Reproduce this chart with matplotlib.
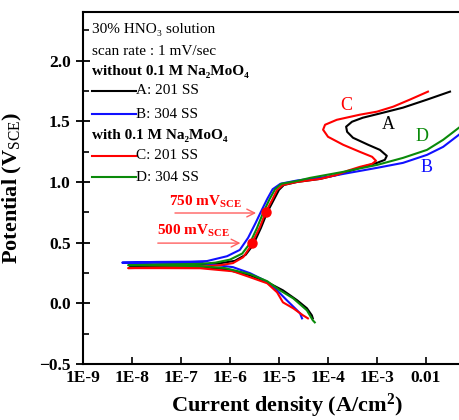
import matplotlib
matplotlib.use('Agg')
import matplotlib.pyplot as plt
from matplotlib.lines import Line2D
import numpy as np

plt.rcParams['font.family'] = ['Liberation Serif', 'DejaVu Serif']
plt.rcParams['mathtext.fontset'] = 'custom'
plt.rcParams['mathtext.rm'] = 'Liberation Serif'
plt.rcParams['mathtext.bf'] = 'Liberation Serif:bold'
plt.rcParams['mathtext.it'] = 'Liberation Serif:italic'

# polarization curves: log10 of current density (A/cm2) and potential (V_SCE)
# path order: cathodic end -> corrosion potential -> anodic branch
A_logi = [-4.31, -4.33, -4.43, -4.63, -4.92, -5.24, -5.59, -6.10, -6.61, -7.43, -8.04,
          -7.40, -6.60, -6.20, -5.90, -5.68, -5.53, -5.37, -5.24, -5.11, -5.00, -4.90,
          -4.63, -4.16, -3.82, -3.55, -3.29, -3.00, -2.84, -2.80, -2.94, -3.18, -3.49,
          -3.61, -3.63, -3.51, -3.29, -2.88, -2.47, -1.98, -1.51]
A_E = [-0.124, -0.099, -0.041, 0.025, 0.107, 0.174, 0.231, 0.280, 0.298, 0.306, 0.305,
       0.312, 0.318, 0.330, 0.350, 0.400, 0.480, 0.620, 0.750, 0.850, 0.935, 0.975,
       1.000, 1.025, 1.058, 1.091, 1.124, 1.157, 1.182, 1.215, 1.264, 1.306, 1.364,
       1.413, 1.455, 1.496, 1.529, 1.570, 1.612, 1.678, 1.744]

B_logi = [-4.53, -4.57, -4.63, -4.84, -5.04, -5.30, -5.59, -5.94, -6.61, -7.43, -8.20,
          -7.50, -6.80, -6.47, -6.06, -5.80, -5.63, -5.48, -5.35, -5.24, -5.13, -4.97,
          -4.63, -4.37, -3.96, -3.69, -3.00, -2.47, -1.98, -1.65, -1.33]
B_E = [-0.124, -0.083, -0.058, 0.025, 0.107, 0.190, 0.248, 0.298, 0.332, 0.333, 0.335,
       0.341, 0.343, 0.348, 0.388, 0.440, 0.540, 0.660, 0.770, 0.860, 0.940, 0.985,
       1.012, 1.025, 1.045, 1.066, 1.116, 1.157, 1.223, 1.289, 1.388]

C_logi = [-4.41, -4.51, -4.71, -4.92, -5.04, -5.24, -5.59, -5.94, -6.61, -7.43, -8.08,
          -7.40, -6.60, -6.20, -5.94, -5.73, -5.59, -5.55, -5.39, -5.27, -5.14, -5.04,
          -4.92, -4.63, -4.16, -3.82, -3.61, -3.35, -3.10, -3.02, -3.10, -3.35, -3.69,
          -4.00, -4.10, -4.06, -3.82, -3.35, -3.00, -2.67, -2.33, -1.96]
C_E = [-0.124, -0.099, -0.041, 0.008, 0.091, 0.165, 0.215, 0.264, 0.289, 0.290, 0.290,
       0.296, 0.302, 0.314, 0.331, 0.380, 0.463, 0.496, 0.628, 0.752, 0.851, 0.934,
       0.975, 1.000, 1.025, 1.058, 1.091, 1.124, 1.149, 1.174, 1.207, 1.248, 1.306,
       1.372, 1.430, 1.471, 1.512, 1.554, 1.579, 1.620, 1.678, 1.744]

D_logi = [-4.27, -4.31, -4.43, -4.71, -4.98, -5.24, -5.59, -6.10, -6.61, -7.43, -8.08,
          -7.40, -6.60, -6.30, -6.00, -5.75, -5.60, -5.45, -5.32, -5.19, -5.08, -4.95,
          -4.63, -4.37, -3.69, -3.00, -2.47, -1.98, -1.65, -1.33]
D_E = [-0.157, -0.140, -0.058, 0.041, 0.107, 0.182, 0.240, 0.290, 0.306, 0.312, 0.314,
       0.320, 0.325, 0.335, 0.360, 0.410, 0.490, 0.620, 0.750, 0.860, 0.940, 0.985,
       1.008, 1.033, 1.083, 1.140, 1.198, 1.264, 1.347, 1.446]

# marked potentials on curve C
mark_i = [2.8e-6, 5.4e-6]
mark_E = [0.50, 0.75]

tick_vals = [1e-9, 1e-8, 1e-7, 1e-6, 1e-5, 1e-4, 1e-3, 1e-2]
tick_labels = ['1E-9', '1E-8', '1E-7', '1E-6', '1E-5', '1E-4', '1E-3', '0.01']

curves = [(A_logi, A_E, 'black', 'A: 201 SS'),
          (B_logi, B_E, '#1010ff', 'B: 304 SS'),
          (C_logi, C_E, '#ff0000', 'C: 201 SS'),
          (D_logi, D_E, '#0a8a0a', 'D: 304 SS')]

fig = plt.figure(figsize=(4.59, 4.20), dpi=100)
ax = fig.add_axes([83 / 459, 56 / 420, 392 / 459, 352 / 420])

for logi, E, col, lab in curves:
    ax.plot(10 ** np.array(logi), E, color=col, lw=1.5)

ax.plot(mark_i, mark_E, 'o', color='red', ms=6.5, zorder=5)

ax.set_xscale('log')
ax.set_xlim(1e-9, 1e-1)
ax.set_ylim(-0.5, 2.4)
ax.set_xticks(tick_vals)
ax.set_xticklabels(tick_labels)
ax.set_yticks([-0.5, 0.0, 0.5, 1.0, 1.5, 2.0])
ax.set_yticks(np.arange(-0.25, 2.4, 0.5), minor=True)
ax.xaxis.set_minor_locator(matplotlib.ticker.LogLocator(base=10, subs=np.arange(2, 10)))
ax.xaxis.set_minor_formatter(matplotlib.ticker.NullFormatter())

ax.tick_params(axis='y', which='major', direction='inout', length=10, width=1.3)
ax.tick_params(axis='y', which='minor', direction='in', length=4, width=1.2)
ax.tick_params(axis='x', which='major', direction='in', length=5, width=1.2)
ax.tick_params(axis='x', which='minor', direction='in', length=3, width=1.0)
ax.tick_params(labelsize=12.5, pad=4)
for lab in ax.get_xticklabels() + ax.get_yticklabels():
    lab.set_fontweight('bold')
for sp in ax.spines.values():
    sp.set_linewidth(1.5)

ax.set_ylabel('Potential (V$_{\\mathrm{SCE}}$)', fontsize=16, fontweight='bold')
ax.yaxis.set_label_coords(-0.15, 0.5)
ax.set_xlabel('Current density (A/cm$^{\\mathbf{2}}$)', fontsize=16, fontweight='bold')
ax.xaxis.label.set_va('center')
ax.xaxis.set_label_coords((287 - 83) / 392, -0.12)

# legend block
tx = 0.023
ax.text(tx, 0.949, '30% HNO\u2083 solution', transform=ax.transAxes, fontsize=11, va='center')
ax.text(tx, 0.889, 'scan rate : 1 mV/sec', transform=ax.transAxes, fontsize=11, va='center')
ax.text(tx, 0.832, 'without 0.1 M Na\u2082MoO\u2084', transform=ax.transAxes, fontsize=11,
        fontweight='bold', va='center')
ax.text(tx, 0.648, 'with 0.1 M Na\u2082MoO\u2084', transform=ax.transAxes, fontsize=11,
        fontweight='bold', va='center')
rows = [0.776, 0.710, 0.591, 0.531]
for (logi, E, col, lab), yy in zip(curves, rows):
    ax.add_line(Line2D([tx, 0.135], [yy, yy], color=col, lw=1.5, transform=ax.transAxes))
    ax.text(0.135, yy, lab, transform=ax.transAxes, fontsize=11, va='center')

# curve letters
ax.text(10 ** -3.63, 1.628, 'C', color='#ff0000', fontsize=13, ha='center', va='center')
ax.text(10 ** -2.76, 1.471, 'A', color='black', fontsize=13, ha='center', va='center')
ax.text(10 ** -2.08, 1.372, 'D', color='#0a8a0a', fontsize=13, ha='center', va='center')
ax.text(10 ** -1.98, 1.116, 'B', color='#1010ff', fontsize=13, ha='center', va='center')

# potential annotations
arrow = dict(arrowstyle='->', color='#ff6060', lw=1.0, mutation_scale=14)
ax.text(10 ** -7.24, 0.835, '750 mV$_{\\mathbf{SCE}}$', color='red', fontsize=11,
        fontweight='bold', va='center')
ax.annotate('', xy=(10 ** -5.41, 0.744), xytext=(10 ** -7.18, 0.744), arrowprops=arrow)
ax.text(10 ** -7.49, 0.595, '500 mV$_{\\mathbf{SCE}}$', color='red', fontsize=11,
        fontweight='bold', va='center')
ax.annotate('', xy=(10 ** -5.73, 0.496), xytext=(10 ** -7.53, 0.496), arrowprops=arrow)

fig.savefig('out.png', dpi=100)
